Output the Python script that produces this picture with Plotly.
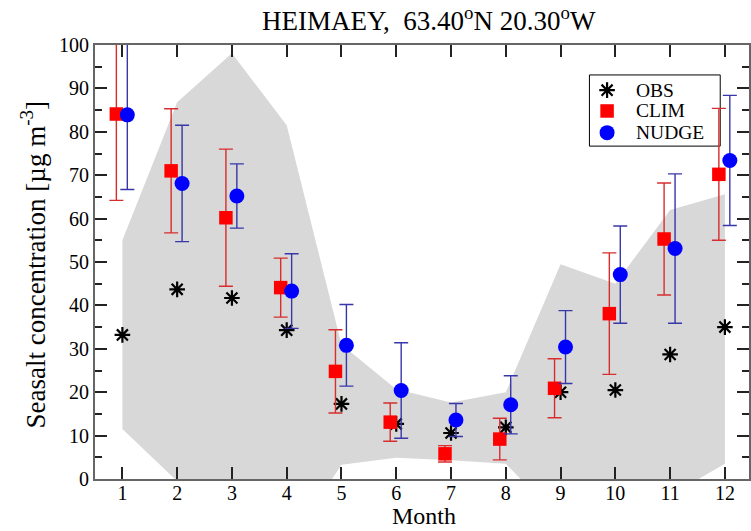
import plotly.graph_objects as go

# Monthly sea-salt concentration at Heimaey (µg m-3)
months = [1, 2, 3, 4, 5, 6, 7, 8, 9, 10, 11, 12]
month_labels = ["1", "2", "3", "4", "5", "6", "7", "8", "9", "10", "11", "12"]

obs = [33.2, 43.7, 41.7, 34.3, 17.3, 12.7, 10.6, 11.9, 20.0, 20.5, 28.7, 35.0]

clim = [84.1, 71.0, 60.2, 44.1, 24.8, 13.1, 5.8, 9.2, 20.9, 38.1, 55.3, 70.2]
clim_err = [19.9, 14.3, 15.8, 6.8, 9.6, 4.4, 1.9, 4.8, 6.8, 14.0, 12.9, 15.2]

nudge = [83.9, 68.1, 65.2, 43.3, 30.8, 20.4, 13.6, 17.1, 30.4, 47.1, 53.1, 73.4]
nudge_err = [17.2, 13.4, 7.4, 8.6, 9.4, 11.0, 3.8, 6.7, 8.4, 11.2, 17.2, 15.0]

# observed spread (shaded envelope)
band_upper = [55.0, 86.8, 98.1, 81.5, 31.0, 20.7, 17.6, 20.0, 49.5, 45.0, 62.0, 65.6]
band_lower = [11.5, -0.5, -10.0, -16.0, 3.3, 4.9, 4.3, 3.5, -9.5, -10.0, -3.8, 3.5]

series_names = ["OBS", "CLIM", "NUDGE"]

# positions of the model markers are shifted slightly around each month
clim_shift = -0.11
nudge_shift = 0.09

FONT = "Liberation Serif, Times New Roman, Times, serif"

obs_marker = dict(symbol="asterisk", size=13, color="black",
                  line=dict(color="black", width=2.2))
clim_marker = dict(symbol="square", size=13.5, color="#ff0000", line=dict(width=0))
nudge_marker = dict(symbol="circle", size=15, color="#0000ff", line=dict(width=0))

fig = go.Figure()

fig.add_trace(go.Scatter(
    x=months + months[::-1],
    y=band_upper + band_lower[::-1],
    fill="toself",
    fillcolor="rgb(216,216,216)",
    line=dict(width=0, color="rgb(216,216,216)"),
    mode="lines",
    hoverinfo="skip",
    showlegend=False,
))

fig.add_trace(go.Scatter(
    x=months, y=obs, mode="markers", name=series_names[0],
    marker=obs_marker, showlegend=False,
))

fig.add_trace(go.Scatter(
    x=[m + clim_shift for m in months], y=clim, mode="markers", name=series_names[1],
    marker=clim_marker, showlegend=False,
    error_y=dict(type="data", array=clim_err, visible=True,
                 color="rgb(215,45,45)", thickness=1.4, width=7),
))

fig.add_trace(go.Scatter(
    x=[m + nudge_shift for m in months], y=nudge, mode="markers", name=series_names[2],
    marker=nudge_marker, showlegend=False,
    error_y=dict(type="data", array=nudge_err, visible=True,
                 color="rgb(55,55,170)", thickness=1.4, width=7),
))

# legend key: box, symbols on a hidden unit overlay axis, labels as annotations
leg_x0, leg_x1, leg_y0, leg_y1 = 0.756, 0.956, 0.767, 0.931
leg_rows = [0.896, 0.848, 0.798]
leg_sym_x = 0.783
leg_txt_x = 0.824

fig.add_shape(type="rect", xref="paper", yref="paper",
              x0=leg_x0, x1=leg_x1, y0=leg_y0, y1=leg_y1,
              line=dict(color="black", width=1), fillcolor="white", layer="below")

for name, mk, yy in zip(series_names, [obs_marker, clim_marker, nudge_marker], leg_rows):
    fig.add_trace(go.Scatter(
        x=[leg_sym_x], y=[yy], xaxis="x2", yaxis="y2", mode="markers",
        marker=mk, showlegend=False, hoverinfo="skip",
    ))
    fig.add_annotation(
        text=name, xref="paper", yref="paper", x=leg_txt_x, y=yy,
        xanchor="left", yanchor="middle", showarrow=False,
        font=dict(family=FONT, size=19.5, color="black"),
    )

axis_common = dict(
    ticks="inside", ticklen=12, tickwidth=1.5, tickcolor="#222",
    showline=True, linecolor="#666", linewidth=2, mirror="ticks",
    showgrid=False, zeroline=False,
    tickfont=dict(family=FONT, size=20, color="black"),
)

fig.update_xaxes(range=[0.5, 12.44], tickvals=months, ticktext=month_labels,
                 ticklabelstandoff=-5, **axis_common)
fig.update_yaxes(range=[0, 100], tick0=0, dtick=10,
                 minor=dict(ticks="inside", dtick=5, ticklen=7, tickwidth=1.5,
                            tickcolor="#222", showgrid=False),
                 **axis_common)

fig.update_layout(
    xaxis2=dict(overlaying="x", range=[0, 1], visible=False, fixedrange=True),
    yaxis2=dict(overlaying="y", range=[0, 1], visible=False, fixedrange=True),
)

fig.add_annotation(
    text="HEIMAEY,\u00a0 63.40<sup>o</sup>N 20.30<sup>o</sup>W",
    xref="paper", yref="paper", x=0.511, y=1.06,
    xanchor="center", yanchor="middle", showarrow=False,
    font=dict(family=FONT, size=27, color="black"),
)
fig.add_annotation(
    text="Seasalt concentration [µg m<sup>-3</sup>]",
    xref="paper", yref="paper", x=-0.094, y=0.493,
    xanchor="center", yanchor="middle", textangle=-90, showarrow=False,
    font=dict(family=FONT, size=27, color="black"),
)
fig.add_annotation(
    text="Month",
    xref="paper", yref="paper", x=0.503, y=0,
    xanchor="center", yanchor="bottom", yshift=-52, showarrow=False,
    font=dict(family=FONT, size=24, color="black"),
)

fig.update_layout(
    width=751, height=531,
    margin=dict(l=95, r=0, t=45, b=52),
    paper_bgcolor="white", plot_bgcolor="white",
    showlegend=False,
)

fig.write_html("out.html")
